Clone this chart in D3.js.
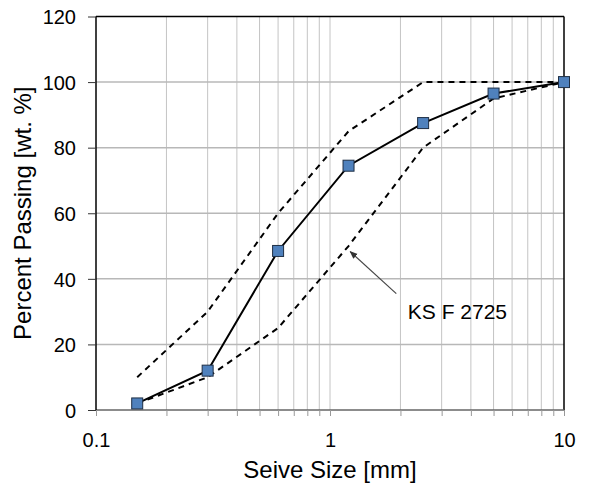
<!DOCTYPE html>
<html><head><meta charset="utf-8">
<script src="https://cdn.jsdelivr.net/npm/d3@7"></script>
<style>body{margin:0;background:#fff;} svg{display:block;} text{font-family:"Liberation Sans",Arial,sans-serif;fill:#000;}</style>
</head><body>
<svg id="c" width="589" height="489"></svg>
<script>
const sieve = [0.15, 0.3, 0.6, 1.2, 2.5, 5, 10];
const passing = [2, 12, 48.5, 74.5, 87.5, 96.5, 100];
const upperLimit = [10, 30, 60, 85, 100, 100, 100];
const lowerLimit = [2, 10, 25, 50, 80, 95, 100];
const yTicks = [0, 20, 40, 60, 80, 100, 120];
const xTickLabels = [0.1, 1, 10];
const annotation = "KS F 2725";

const svg = d3.select("#c");
const L = 96, R = 564, T = 16.5, B = 410;
const x = d3.scaleLog().domain([0.1, 10]).range([L, R]);
const y = d3.scaleLinear().domain([0, 120]).range([B, T]);

const minor = [];
[0.1, 1].forEach(d => { for (let k = 1; k <= 9; k++) minor.push(d * k); });
minor.push(10);

// grid
svg.append("g").selectAll("line").data(minor.filter(v => v > 0.1 && v < 10)).join("line")
  .attr("x1", d => x(d)).attr("x2", d => x(d)).attr("y1", T).attr("y2", B)
  .attr("stroke", "#c4c4c4").attr("stroke-width", 1);
svg.append("g").selectAll("line").data(yTicks.filter(v => v > 0 && v < 120)).join("line")
  .attr("x1", L).attr("x2", R).attr("y1", d => y(d)).attr("y2", d => y(d))
  .attr("stroke", "#b8b8b8").attr("stroke-width", 1.5);

// frame
svg.append("line").attr("x1", L).attr("x2", R).attr("y1", T).attr("y2", T).attr("stroke", "#000").attr("stroke-width", 1.5);
svg.append("line").attr("x1", R).attr("x2", R).attr("y1", T).attr("y2", B).attr("stroke", "#000").attr("stroke-width", 1.5);

// x axis
const xAxis = d3.axisBottom(x).tickValues(minor).tickSize(6).tickFormat(d => xTickLabels.includes(+d.toFixed(3)) ? String(+d.toFixed(3)) : "");
const gx = svg.append("g").attr("transform", `translate(0,${B})`).call(xAxis);
gx.select(".domain").attr("stroke", "#666").attr("stroke-width", 1.5).attr("d", `M${L},0H${R}`);
gx.selectAll(".tick line").attr("stroke", "#999");
gx.selectAll(".tick text").attr("font-size", 20).attr("dy", 0).attr("y", 37)
  .attr("fill", "#000").attr("font-family", "Liberation Sans, Arial, sans-serif");

// y axis
const yAxis = d3.axisLeft(y).tickValues(yTicks).tickSize(8).tickFormat(d3.format("d"));
const gy = svg.append("g").attr("transform", `translate(${L},0)`).call(yAxis);
gy.select(".domain").attr("stroke", "#000").attr("stroke-width", 1.5).attr("d", `M0,${T}V${B}`);
gy.selectAll(".tick line").attr("stroke", "#333");
gy.selectAll(".tick text").attr("font-size", 20).attr("x", -20).attr("dy", "0.36em")
  .attr("fill", "#000").attr("font-family", "Liberation Sans, Arial, sans-serif");

const mk = vals => sieve.map((s, i) => [s, vals[i]]);
const line = d3.line().x(d => x(d[0])).y(d => y(d[1]));

svg.append("path").datum(mk(upperLimit)).attr("d", line).attr("fill", "none")
  .attr("stroke", "#000").attr("stroke-width", 2).attr("stroke-dasharray", "6,5");
svg.append("path").datum(mk(lowerLimit)).attr("d", line).attr("fill", "none")
  .attr("stroke", "#000").attr("stroke-width", 2).attr("stroke-dasharray", "6,5");
svg.append("path").datum(mk(passing)).attr("d", line).attr("fill", "none")
  .attr("stroke", "#000").attr("stroke-width", 2);

svg.append("g").selectAll("rect").data(mk(passing)).join("rect")
  .attr("x", d => x(d[0]) - 5.5).attr("y", d => y(d[1]) - 5.5)
  .attr("width", 11).attr("height", 11)
  .attr("fill", "#4f81bd").attr("stroke", "#1f2f45").attr("stroke-width", 1);

// annotation arrow
svg.append("defs").append("marker").attr("id", "ah").attr("viewBox", "0 0 10 10")
  .attr("refX", 9).attr("refY", 5).attr("markerWidth", 8).attr("markerHeight", 8)
  .attr("orient", "auto-start-reverse").attr("markerUnits", "userSpaceOnUse")
  .append("path").attr("d", "M0,1L10,5L0,9Z").attr("fill", "#333");
svg.append("line").attr("x1", x(1.92)).attr("y1", y(35.5)).attr("x2", x(1.22)).attr("y2", y(48.3))
  .attr("stroke", "#444").attr("stroke-width", 1.2).attr("marker-end", "url(#ah)");
svg.append("text").attr("x", x(2.15)).attr("y", y(27.6)).attr("font-size", 21).text(annotation);

// axis titles
svg.append("text").attr("x", (L + R) / 2).attr("y", 478).attr("text-anchor", "middle")
  .attr("font-size", 24).text("Seive Size [mm]");
svg.append("text").attr("transform", `translate(31,${(T + B) / 2}) rotate(-90)`)
  .attr("text-anchor", "middle").attr("font-size", 24).text("Percent Passing [wt. %]");
</script>
</body></html>
